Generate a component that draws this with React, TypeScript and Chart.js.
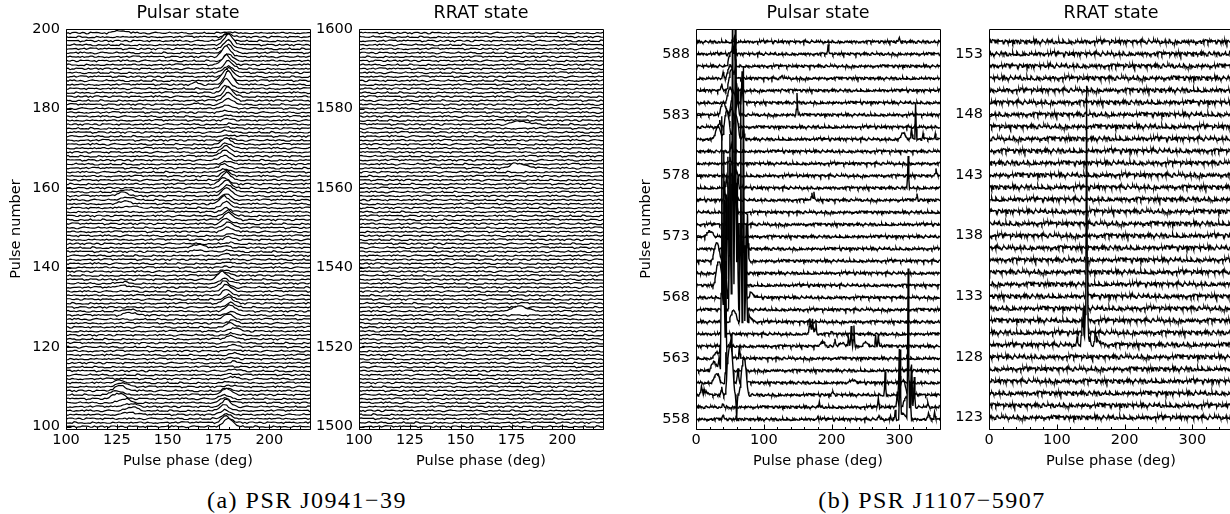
import React, { useEffect, useRef } from 'react';
import { Chart, registerables } from 'chart.js';

Chart.register(...registerables);
Chart.defaults.font.family = "'DejaVu Sans', sans-serif";
Chart.defaults.color = '#000';

// ---------- hand-typed data ----------
// baseline jitter table (read as "noise units"), reused for all traces
const NOISE = [
  3, -5, 1, 7, -2, -8, 4, 0, -3, 6,
  -1, 2, -7, 5, -4, 8, -6, 1, 3, -2,
  0, -9, 4, 6, -3, 2, -5, 7, -1, -4,
  5, 0, -8, 3, 1, -6, 9, -2, 4, -7,
  2, 6, -3, -1, 5, -5, 0, 8, -4, 3,
  -2, 7, -6, 1, 4, -9, 2, -1, 6, -3,
  5, -7, 0, 3, -4, 8, -2, -5, 1, 7,
  -6, 4, -1, 2, -8, 5, 3, -3, 0, 6,
  -5, 9, -2, 1, -7, 4, -4, 2, 7, -1,
  -6, 3, 5, -3, 0, -8, 6, 1, -2, 4,
  -5, 8, -1, -4, 2, 3, -7, 6, 0, -3,
  5, -6, 1, 7, -2, -9, 4, 2, -1, 6,
  -4, 3, -5, 8, 0, -2, 5, -7, 1, -3,
  6, 2, -6, 4, -1, 7, -8, 3, 0, -4,
  5, -2, 9, -5, 1, -3, 2, -6, 4, 1,
  -2, 3, -4, 0, 6, -1, 2,
];

// pulse-shape templates (one value per 1 deg bin)
const SHAPES: Record<string, number[]> = {
  main: [0.06, 0.16, 0.36, 0.66, 0.92, 1.0, 0.82, 0.56, 0.34, 0.18, 0.08, 0.03],
  comp: [0.08, 0.2, 0.4, 0.62, 0.82, 0.96, 1.0, 0.9, 0.72, 0.5, 0.3, 0.15, 0.06],
  rrat: [0.08, 0.2, 0.38, 0.6, 0.85, 1.0, 0.8, 0.68, 0.58, 0.5, 0.42, 0.35, 0.29, 0.23, 0.18, 0.14, 0.1, 0.07, 0.04, 0.02],
  rratwide: [0.05, 0.12, 0.22, 0.35, 0.5, 0.65, 0.8, 0.92, 1.0, 0.85, 0.72, 0.6, 0.5, 0.4, 0.32, 0.25, 0.19, 0.14, 0.1, 0.06, 0.03],
  spike: [0.3, 1.0, 0.3],
  narrow: [0.15, 0.5, 1.0, 0.5, 0.15],
  wide: [0.08, 0.22, 0.42, 0.62, 0.8, 0.93, 1.0, 1.0, 0.93, 0.8, 0.62, 0.42, 0.22, 0.08],
  tail: [1.0, 0.8, 0.62, 0.48, 0.36, 0.27, 0.2, 0.14, 0.1, 0.07, 0.04, 0.02],
};

// (a) PSR J0941-39, pulsar state: main component height per pulse 100..199
const J0941_PULSAR_MAIN_AMP = [
  2.3, 1.7, 1.4, 1.2, 1.6, 1.8, 1.3, 1.0, 1.7, 0.7,
  0.4, 0.3, 0.5, 0.3, 0.4, 0.15, 0.4, 0.3, 0.5, 0.4,
  0.7, 0.4, 0.8, 0.5, 0.9, 1.2, 0.8, 1.4, 1.0, 1.6,
  1.3, 1.7, 1.2, 1.4, 1.8, 1.6, 1.3, 2.1, 0.9, 0.4,
  0.3, 0.4, 0.15, 0.5, 0.3, 0.4, 0.3, 0.7, 0.5, 1.2,
  1.6, 1.3, 1.8, 1.4, 1.0, 1.7, 2.1, 1.6, 2.3, 1.8,
  2.2, 1.7, 2.0, 1.3, 0.8, 1.0, 0.7, 1.2, 1.6, 1.8,
  1.4, 1.7, 0.5, 0.3, 0.4, 0.3, 0.15, 0.4, 0.3, 0.5,
  1.0, 1.6, 2.0, 2.5, 1.8, 2.6, 3.4, 2.9, 2.2, 1.7,
  2.1, 2.5, 1.8, 2.7, 2.0, 2.3, 2.6, 1.6, 0.8, 0.4,
];
const J0941_PULSAR_MAIN_PHASE = [
  180, 179, 179, 178, 178, 179, 178, 178, 179, 180,
  181, 180, 182, 181, 183, 182, 183, 182, 183, 182,
  182, 182, 181, 182, 183, 181, 182, 180, 181, 181,
  181, 180, 180, 179, 179, 178, 178, 177, 178, 179,
  179, 180, 178, 179, 180, 179, 180, 180, 181, 180,
  180, 179, 180, 180, 179, 179, 178, 179, 179, 180,
  179, 178, 179, 179, 178, 178, 179, 178, 178, 179,
  179, 179, 180, 180, 179, 180, 181, 180, 179, 179,
  179, 180, 180, 180, 179, 179, 180, 179, 180, 180,
  180, 179, 180, 179, 180, 180, 180, 179, 180, 180,
];
// [pulse, phase (deg), height (pulse units), shape]
const J0941_PULSAR_COMPONENTS: [number, number, number, string][] = [
  [199, 127, 0.6, 'comp'], [186, 164, 0.8, 'narrow'], [181, 164, 0.4, 'narrow'],
  [159, 130, 0.7, 'comp'], [158, 128, 0.9, 'comp'], [157, 131, 0.8, 'comp'], [156, 129, 0.6, 'comp'], [155, 132, 0.5, 'comp'],
  [145, 165, 0.7, 'comp'], [144, 166, 0.4, 'comp'], [136, 128, 0.4, 'comp'], [135, 129, 0.5, 'comp'],
  [129, 131, 0.6, 'comp'], [128, 132, 0.7, 'comp'],
  [111, 126, 0.6, 'comp'], [110, 128, 1.1, 'comp'], [109, 127, 1.3, 'comp'], [108, 125, 1.1, 'comp'],
  [107, 126, 1.4, 'comp'], [106, 129, 1.0, 'comp'], [105, 132, 0.8, 'comp'], [104, 133, 0.9, 'comp'], [103, 131, 0.6, 'comp'],
];
// (a) RRAT state: only three pulses detected
const J0941_RRAT_PULSES: [number, number, number, string][] = [
  [1576, 178, 1.0, 'rrat'], [1565, 177, 1.5, 'rrat'], [1529, 179, 1.4, 'rratwide'],
];

// (b) PSR J1107-5907, pulsar state
const J1107_PULSAR_COMPONENTS: [number, number, number, string][] = [
  [558, 40, 0.3, 'narrow'], [558, 180, 0.2, 'narrow'], [558, 270, 0.3, 'narrow'], [558, 287, 0.3, 'spike'], [558, 294, 0.8, 'spike'],
  [558, 301, 5.5, 'spike'], [558, 305, 0.5, 'wide'], [558, 313, 12.3, 'spike'], [558, 316, 3.0, 'spike'], [558, 343, 0.5, 'narrow'], [558, 352, 0.6, 'spike'],
  [559, 40, 0.3, 'narrow'], [559, 182, 0.4, 'spike'], [559, 269, 0.7, 'spike'], [559, 297, 1.2, 'narrow'], [559, 310, 0.8, 'wide'],
  [559, 318, 3.4, 'spike'], [559, 322, 2.5, 'spike'], [559, 342, 0.3, 'narrow'],
  [560, 8, 0.7, 'narrow'], [560, 12, 0.4, 'tail'], [560, 38, 0.6, 'narrow'], [560, 50, 4.3, 'wide'], [560, 46, 0.8, 'spike'],
  [560, 70, 3.0, 'wide'], [560, 60, -2.0, 'spike'], [560, 202, 0.3, 'narrow'], [560, 279, 1.8, 'spike'], [560, 300, 3.5, 'spike'],
  [560, 305, 1.2, 'wide'], [560, 318, 2.0, 'spike'],
  [561, 30, 0.8, 'wide'], [561, 44, 2.5, 'spike'], [561, 48, 1.5, 'narrow'], [561, 62, 1.2, 'narrow'], [561, 230, 0.2, 'wide'],
  [562, 26, 0.7, 'wide'], [562, 34, 1.0, 'narrow'], [562, 38, 21, 'spike'], [562, 41, 18, 'spike'], [562, 44, 9, 'spike'],
  [563, 30, 0.5, 'wide'], [563, 36, 0.9, 'narrow'], [563, 52, 2.0, 'spike'], [563, 64, 1.0, 'spike'],
  [564, 186, 0.3, 'wide'], [564, 205, 0.5, 'narrow'], [564, 215, 0.3, 'wide'], [564, 225, 0.7, 'narrow'], [564, 229, 1.6, 'spike'],
  [564, 233, 1.8, 'spike'], [564, 250, 0.3, 'wide'], [564, 265, 0.9, 'spike'], [564, 269, 1.0, 'spike'],
  [565, 168, 1.0, 'spike'], [565, 170, 0.4, 'wide'], [565, 172, 0.8, 'spike'], [565, 177, 1.0, 'spike'], [565, 200, 0.2, 'narrow'],
  [566, 55, 1.0, 'wide'], [566, 66, 19, 'spike'], [566, 70, 21, 'spike'], [566, 74, 8, 'spike'], [566, 78, 0.6, 'tail'],
  [567, 50, 14, 'spike'], [567, 54, 26, 'spike'], [567, 55, 2.0, 'wide'], [567, 58, 25, 'spike'], [567, 61, 10, 'spike'],
  [568, 44, 3, 'spike'], [568, 49, 6, 'spike'], [568, 56, 4, 'spike'], [568, 66, 1.0, 'wide'], [568, 80, 0.5, 'tail'],
  [569, 33, 2.0, 'wide'], [569, 42, 7, 'spike'], [569, 47, 9, 'spike'], [569, 50, 2.5, 'wide'], [569, 52, 6, 'spike'], [569, 60, 8, 'spike'], [569, 65, 5, 'spike'],
  [570, 40, 4, 'spike'], [570, 45, 6, 'spike'], [570, 55, 7, 'spike'], [570, 63, 4, 'spike'],
  [571, 30, 1.5, 'wide'], [571, 44, 5, 'spike'], [571, 50, 8, 'spike'], [571, 57, 6, 'spike'], [571, 72, 1.2, 'wide'], [571, 76, 3, 'spike'],
  [572, 48, 3, 'spike'], [572, 50, 1.5, 'wide'], [572, 53, 5, 'spike'], [572, 58, 3, 'spike'],
  [573, 20, 0.5, 'wide'], [573, 47, 2, 'spike'], [573, 55, 3, 'spike'],
  [574, 50, 1.5, 'wide'], [574, 56, 2.5, 'spike'],
  [575, 45, 1.5, 'spike'], [575, 52, 2, 'spike'], [575, 60, 1.5, 'spike'],
  [576, 42, 1.5, 'spike'], [576, 50, 3, 'spike'], [576, 55, 2, 'spike'], [576, 171, 0.7, 'spike'], [576, 174, 0.6, 'spike'], [576, 326, 0.5, 'spike'],
  [577, 45, 0.8, 'narrow'], [577, 62, 1.0, 'spike'], [577, 313, 2.7, 'spike'],
  [578, 60, 0.4, 'narrow'], [578, 354, 0.5, 'narrow'],
  [579, 50, 0.5, 'narrow'], [580, 52, 0.6, 'narrow'],
  [581, 32, 1.0, 'wide'], [581, 45, 2.3, 'wide'], [581, 58, 2.0, 'wide'], [581, 70, 1.0, 'narrow'], [581, 305, 0.5, 'wide'],
  [581, 318, 0.8, 'narrow'], [581, 324, 3.0, 'spike'], [581, 335, 0.4, 'spike'], [581, 353, 0.4, 'spike'],
  [582, 35, 0.6, 'narrow'], [582, 52, 1.5, 'wide'],
  [583, 40, 1.0, 'wide'], [583, 55, 1.8, 'wide'], [583, 62, 2.0, 'spike'], [583, 149, 1.8, 'spike'],
  [584, 50, 1.2, 'wide'], [584, 60, 1.6, 'spike'], [584, 68, 2.5, 'spike'],
  [585, 38, 0.6, 'narrow'], [585, 52, 1.8, 'wide'], [585, 58, 1.4, 'narrow'], [585, 127, 0.2, 'narrow'],
  [586, 40, 0.5, 'narrow'], [586, 50, 1.0, 'wide'], [586, 127, 0.25, 'narrow'],
  [587, 52, 1.3, 'wide'], [587, 57, 1.0, 'spike'],
  [588, 54, 0.6, 'narrow'], [588, 57, 1.2, 'spike'], [588, 195, 0.7, 'spike'],
  [589, 57, 0.5, 'narrow'], [589, 300, 0.3, 'narrow'],
];
// (b) RRAT state: a single bright pulse
const J1107_RRAT_COMPONENTS: [number, number, number, string][] = [
  [129, 130, 0.5, 'narrow'], [129, 137, 2.0, 'spike'], [129, 139, 3.0, 'spike'], [129, 142, 2.6, 'spike'], [129, 144, 21.5, 'spike'],
  [129, 146, 2.2, 'spike'], [129, 149, 0.8, 'spike'], [129, 157, 1.2, 'narrow'], [129, 160, 0.5, 'tail'],
  [130, 140, 1.0, 'spike'], [130, 143, 1.6, 'spike'],
  [131, 141, 1.2, 'spike'], [131, 144, 2.0, 'spike'],
  [132, 144, 1.0, 'spike'], [133, 144, 1.6, 'spike'],
];

// axes
const A_PHASE_TICKS = [100, 125, 150, 175, 200];
const B_PHASE_TICKS = [0, 100, 200, 300];
const A_PULSAR_TICKS = [100, 120, 140, 160, 180, 200];
const A_RRAT_TICKS = [1500, 1520, 1540, 1560, 1580, 1600];
const B_PULSAR_TICKS = [558, 563, 568, 573, 578, 583, 588];
const B_RRAT_TICKS = [123, 128, 133, 138, 143, 148, 153];

// ---------- helpers ----------
type Comp = [number, number, number, string];
interface PanelCfg {
  first: number; last: number;
  xMin: number; xMax: number; xTicks: number[]; xMinor: number;
  yMin: number; yMax: number; yTicks: number[];
  comps: Comp[]; noiseScale: number; seed: number; lineWidth: number;
  plotLeft: number; title: string; yTitle?: string;
}

function buildDatasets(c: PanelCfg) {
  const n = c.xMax - c.xMin; // 1 deg bins
  const sets: any[] = [];
  for (let p = c.first; p <= c.last; p++) {
    const k = p - c.first;
    const vals: number[] = [];
    for (let i = 0; i <= n; i++) {
      vals.push(NOISE[(i * 11 + k * 37 + c.seed) % NOISE.length] * c.noiseScale);
    }
    for (const [fp, ph, amp, shape] of c.comps) {
      if (fp !== p) continue;
      const tpl = SHAPES[shape];
      const ctr = tpl.indexOf(Math.max(...tpl));
      const i0 = Math.round(ph - c.xMin) - ctr;
      tpl.forEach((t, j) => {
        const idx = i0 + j;
        if (idx >= 0 && idx <= n) vals[idx] += amp * t;
      });
    }
    sets.push({
      data: vals.map((v, i) => ({ x: c.xMin + i, y: p + v })),
      borderColor: '#000',
      borderWidth: c.lineWidth,
      backgroundColor: '#fff',
      fill: { value: p },
      pointRadius: 0,
      tension: 0,
    });
  }
  return sets; // lowest pulse first -> drawn last (on top)
}

const framePlugin = {
  id: 'frameTicks',
  afterDatasetsDraw(chart: any) {
    const { ctx, chartArea: a, scales } = chart;
    const xs = scales.x, ys = scales.y;
    const minor = chart.options.plugins.frameTicks.minor;
    ctx.save();
    ctx.strokeStyle = '#000';
    ctx.lineWidth = 1;
    const L = Math.round(a.left) + 0.5, T = Math.round(a.top) + 0.5;
    const R = Math.round(a.right) + 0.5, B = Math.round(a.bottom) + 0.5;
    ctx.beginPath();
    ctx.rect(L, T, R - L, B - T);
    for (let v = xs.min; v <= xs.max; v += minor) {
      const px = Math.round(xs.getPixelForValue(v)) + 0.5;
      ctx.moveTo(px, B); ctx.lineTo(px, B - 2.5);
    }
    for (const t of xs.ticks) {
      const px = Math.round(xs.getPixelForValue(t.value)) + 0.5;
      ctx.moveTo(px, B); ctx.lineTo(px, B - 5);
    }
    for (const t of ys.ticks) {
      const py = Math.round(ys.getPixelForValue(t.value)) + 0.5;
      ctx.moveTo(L, py); ctx.lineTo(L + 5, py);
    }
    ctx.stroke();
    ctx.restore();
  },
};

const CANVAS_W = 322, CANVAS_H = 470, AXIS_W = 66, AXIS_H = 41;
const TICK_FONT = 14.5, LABEL_FONT = 14.5, TITLE_FONT = 17.5;

function Panel({ cfg }: { cfg: PanelCfg }) {
  const ref = useRef<HTMLCanvasElement>(null);
  useEffect(() => {
    const chart = new Chart(ref.current as HTMLCanvasElement, {
      type: 'line',
      data: { datasets: buildDatasets(cfg) },
      plugins: [framePlugin as any],
      options: {
        animation: false,
        responsive: false,
        events: [],
        parsing: false,
        layout: { padding: { left: 0, right: CANVAS_W - AXIS_W - 244, top: 0, bottom: 0 } },
        plugins: {
          legend: { display: false },
          tooltip: { enabled: false },
          filler: { drawTime: 'beforeDatasetDraw' },
          title: {
            display: true, text: cfg.title, fullSize: false,
            font: { size: TITLE_FONT, weight: 'normal' }, color: '#000',
            padding: { top: 3, bottom: 5 },
          },
          frameTicks: { minor: cfg.xMinor },
        } as any,
        scales: {
          x: {
            type: 'linear', min: cfg.xMin, max: cfg.xMax,
            grid: { display: false, drawTicks: false },
            border: { display: false },
            ticks: { padding: 3, font: { size: TICK_FONT }, color: '#000', maxRotation: 0, autoSkip: false, callback: (v: any) => String(v) },
            title: { display: true, text: 'Pulse phase (deg)', font: { size: LABEL_FONT }, color: '#000', padding: { top: 0, bottom: 0 } },
            afterBuildTicks: (s: any) => { s.ticks = cfg.xTicks.map((v) => ({ value: v })); },
            afterFit: (s: any) => { s.height = AXIS_H; },
          },
          y: {
            type: 'linear', min: cfg.yMin, max: cfg.yMax,
            grid: { display: false, drawTicks: false },
            border: { display: false },
            ticks: { padding: 6, font: { size: TICK_FONT }, color: '#000', autoSkip: false, callback: (v: any) => String(v) },
            title: { display: !!cfg.yTitle, text: cfg.yTitle || '', font: { size: LABEL_FONT }, color: '#000', padding: { top: 8, bottom: 0 } },
            afterBuildTicks: (s: any) => { s.ticks = cfg.yTicks.map((v) => ({ value: v })); },
            afterFit: (s: any) => { s.width = AXIS_W; },
          },
        } as any,
      },
    });
    return () => chart.destroy();
  }, [cfg]);
  return (
    <canvas
      ref={ref}
      width={CANVAS_W}
      height={CANVAS_H}
      style={{ position: 'absolute', left: cfg.plotLeft - AXIS_W, top: 0, width: CANVAS_W, height: CANVAS_H }}
    />
  );
}

const PANELS: PanelCfg[] = [
  {
    first: 100, last: 199, xMin: 100, xMax: 220, xTicks: A_PHASE_TICKS, xMinor: 5,
    yMin: 99.4, yMax: 200, yTicks: A_PULSAR_TICKS,
    comps: [
      ...J0941_PULSAR_MAIN_AMP.map((a, k) => [100 + k, J0941_PULSAR_MAIN_PHASE[k], a, 'main'] as Comp),
      ...J0941_PULSAR_COMPONENTS,
    ],
    noiseScale: 0.026, seed: 0, lineWidth: 1.2, plotLeft: 66, title: 'Pulsar state', yTitle: 'Pulse number',
  },
  {
    first: 1500, last: 1599, xMin: 100, xMax: 220, xTicks: A_PHASE_TICKS, xMinor: 5,
    yMin: 1499.4, yMax: 1600, yTicks: A_RRAT_TICKS,
    comps: J0941_RRAT_PULSES, noiseScale: 0.026, seed: 50, lineWidth: 1.2, plotLeft: 359, title: 'RRAT state',
  },
  {
    first: 558, last: 589, xMin: 0, xMax: 360, xTicks: B_PHASE_TICKS, xMinor: 20,
    yMin: 557.2, yMax: 590.05, yTicks: B_PULSAR_TICKS,
    comps: J1107_PULSAR_COMPONENTS, noiseScale: 0.012, seed: 20, lineWidth: 1.4, plotLeft: 696, title: 'Pulsar state', yTitle: 'Pulse number',
  },
  {
    first: 123, last: 154, xMin: 0, xMax: 360, xTicks: B_PHASE_TICKS, xMinor: 20,
    yMin: 122.05, yMax: 155.05, yTicks: B_RRAT_TICKS,
    comps: J1107_RRAT_COMPONENTS, noiseScale: 0.02, seed: 90, lineWidth: 1.3, plotLeft: 989, title: 'RRAT state',
  },
];

const captionStyle: React.CSSProperties = {
  position: 'absolute', top: 488, width: 400, textAlign: 'center',
  fontFamily: "'Liberation Serif', serif", fontSize: 24, lineHeight: '24px', letterSpacing: 1.5, color: '#000',
  whiteSpace: 'nowrap',
};

export default function App() {
  return (
    <div style={{ position: 'absolute', left: 0, top: 0, width: 1230, height: 514, overflow: 'hidden', background: '#fff' }}>
      {PANELS.map((p, i) => <Panel key={i} cfg={p} />)}
      <div style={{ ...captionStyle, left: 307 - 200 }}>(a) PSR J0941−39</div>
      <div style={{ ...captionStyle, left: 932 - 200 }}>(b) PSR J1107−5907</div>
    </div>
  );
}
